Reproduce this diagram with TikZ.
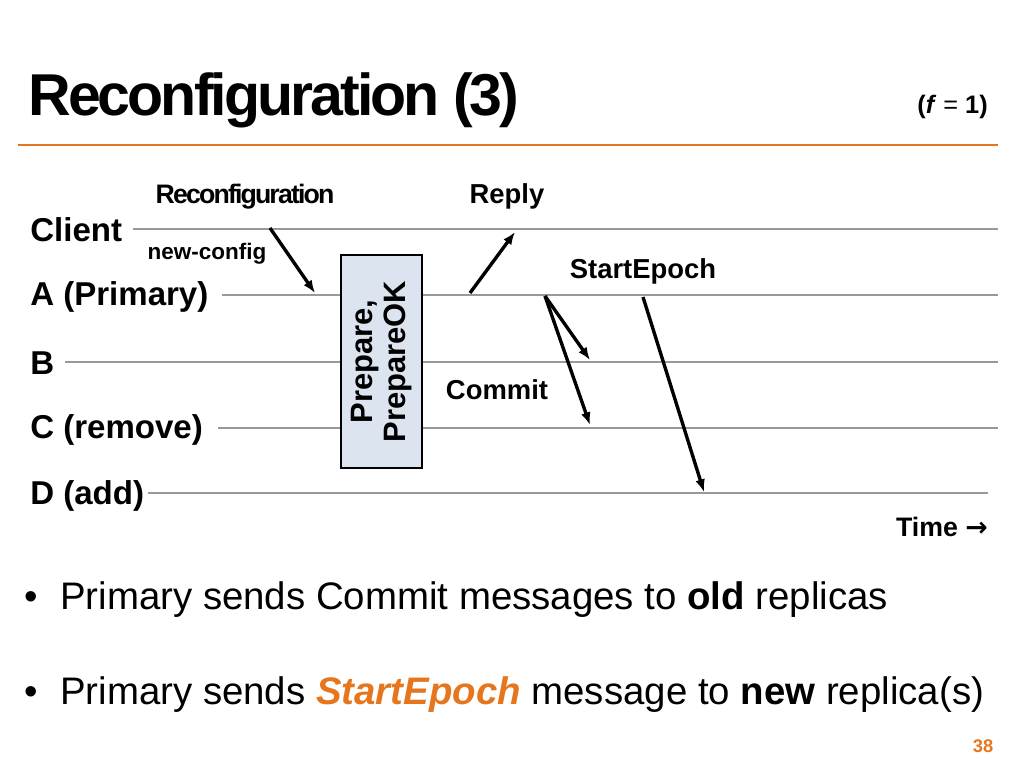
\documentclass[tikz,border=0pt]{standalone}
\usepackage{fontspec}
\setmainfont{Liberation Sans}
\newfontfamily\symfont{DejaVu Sans}
\usetikzlibrary{positioning,arrows.meta}
\definecolor{slideorange}{RGB}{230,118,30}
\definecolor{boxfill}{RGB}{220,228,240}
\tikzset{
  timeline/.style={line width=1.6pt,gray!80},
  msg/.style={-{Latex[length=9pt,width=7pt]},line width=2.4pt,black},
  proc/.style={anchor=west,font=\fontsize{23.5}{25}\selectfont\bfseries,inner sep=0pt},
  msglabel/.style={font=\fontsize{19.5}{21}\selectfont\bfseries,inner sep=0pt},
  bullet/.style={anchor=west,font=\fontsize{27.3}{31}\selectfont,inner sep=0pt},
}
\begin{document}
\begin{tikzpicture}[x=0.025cm,y=-0.025cm]
  % --- Frame ---
  \useasboundingbox (0,0) rectangle (1024,768);

  % --- Title ---
  \node[anchor=west,inner sep=0pt,font=\fontsize{42}{46}\selectfont\bfseries] (title) at (28,100) {\addfontfeature{LetterSpace=-5}Reconfiguration (3)};
  \node[anchor=east,inner sep=0pt,font=\fontsize{18}{20}\selectfont\bfseries] (fval) at (988,107) {(\textit{f} \mdseries= \bfseries1)};
  \draw[slideorange,line width=2pt] (18,145) -- (998,145);

  % --- Processes ---
  \node[proc] (client) at (30,230) {Client};
  \node[proc] (A) at (30,297) {A (Primary)};
  \node[proc] (B) at (30,363) {B};
  \node[proc] (C) at (30,430) {C (remove)};
  \node[proc] (D) at (30,496) {D (add)};
  \draw[timeline] (133,229) -- (998,229);
  \draw[timeline] (222,295) -- (998,295);
  \draw[timeline] (65,362) -- (998,362);
  \draw[timeline] (218,428) -- (998,428);
  \draw[timeline] (148,493) -- (988,493);

  % --- Prepare box ---
  \node[draw=black,line width=1.2pt,fill=boxfill,minimum width=81*0.025cm,minimum height=213*0.025cm,inner sep=0pt] (prep) at (381.5,361.5) {};
  \node[rotate=90,align=center,font=\fontsize{22}{23}\selectfont\bfseries] at (prep.center) {Prepare,\\PrepareOK};

  % --- Message end points ---
  \coordinate (reqS) at (270,228);
  \coordinate (reqE) at (315,293);
  \coordinate (repS) at (470,293);
  \coordinate (repE) at (515,232);
  \coordinate (comS) at (545,296);
  \coordinate (comB) at (590,360);
  \coordinate (comC) at (590,425);
  \coordinate (seS) at (643,297);
  \coordinate (seD) at (704,492);

  % --- Messages ---
  \draw[msg] (reqS) -- (reqE);
  \draw[msg] (repS) -- (repE);
  \draw[msg] (comS) -- (comB);
  \draw[msg] (comS) -- (comC);
  \draw[msg] (seS) -- (seD);

  \node[msglabel,font=\fontsize{19}{21}\selectfont\bfseries\addfontfeature{LetterSpace=-7}] (reconf) at (245,197) {Reconfiguration};
  \node[msglabel,font=\fontsize{16}{18}\selectfont\bfseries] (newcfg) at (207,254) {new-config};
  \node[msglabel] (reply) at (507,196) {Reply};
  \node[msglabel] (sep) at (643,271) {StartEpoch};
  \node[msglabel] (commit) at (497,390) {Commit};
  \node[anchor=east,inner sep=0pt,font=\fontsize{19}{21}\selectfont\bfseries] (time) at (988,527) {Time {\symfont\bfseries →}};

  % --- Bullets ---
  \node[bullet] (b1) at (24,600) {\textbullet\hspace{16pt}Primary sends Commit messages to \textbf{old} replicas};
  \node[bullet] (b2) at (24,695) {\textbullet\hspace{16pt}Primary sends \textcolor{slideorange}{\textbf{\textit{StartEpoch}}} message to \textbf{new} replica(s)};

  % --- Page number ---
  \node[inner sep=0pt,text=slideorange,font=\fontsize{13}{15}\selectfont\bfseries] (page) at (983,746) {38};
\end{tikzpicture}
\end{document}
